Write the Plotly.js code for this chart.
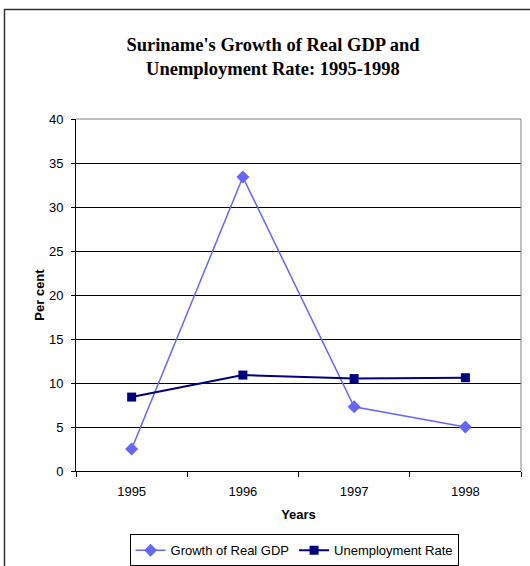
<!DOCTYPE html>
<html>
<head>
<meta charset="utf-8">
<script src="https://cdn.plot.ly/plotly-3.0.1.min.js"></script>
<style>
  body { margin: 0; background: #fff; }
  #chart { width: 530px; height: 566px; }
</style>
</head>
<body>
<div id="chart"></div>
<script>
    // Dados
    const years = ['1995', '1996', '1997', '1998'];
    const gdpGrowth = [2.5, 33.4, 7.3, 5.0];
    const unemployment = [8.4, 10.9, 10.5, 10.6];

    const traces = [
        {
            x: years,
            y: gdpGrowth,
            name: 'Growth of Real GDP',
            type: 'scatter',
            mode: 'lines+markers',
            line: { color: '#6666FF', width: 1.5 },
            marker: { symbol: 'diamond', size: 10, color: '#6666FF' }
        },
        {
            x: years,
            y: unemployment,
            name: 'Unemployment Rate',
            type: 'scatter',
            mode: 'lines+markers',
            line: { color: '#000080', width: 2 },
            marker: { symbol: 'square', size: 9, color: '#000080' }
        }
    ];

    const layout = {
        width: 530,
        height: 566,
        margin: { t: 119, b: 95, l: 76, r: 9, autoexpand: false },
        paper_bgcolor: '#fff',
        plot_bgcolor: '#fff',
        font: { family: 'Liberation Sans, Arial, sans-serif', size: 13, color: '#000' },
        title: {
            text: "<b>Suriname's Growth of Real GDP and<br>Unemployment Rate: 1995-1998</b>",
            font: { family: 'Liberation Serif, Times New Roman, serif', size: 18.5, color: '#000' },
            x: 0.515,
            xanchor: 'center',
            y: 0.91,
            yanchor: 'middle'
        },
        xaxis: {
            type: 'category',
            range: [-0.5, 3.5],
            tickson: 'boundaries',
            ticks: 'outside',
            ticklen: 5,
            tickcolor: '#000',
            ticklabelstandoff: 8,
            showline: true,
            linecolor: '#000',
            linewidth: 1,
            showgrid: false,
            title: { text: '<b>Years</b>', font: { size: 13 }, standoff: 12 }
        },
        yaxis: {
            range: [0, 40],
            dtick: 5,
            ticks: 'outside',
            ticklen: 4,
            tickcolor: '#000',
            ticklabelstandoff: 5,
            showline: true,
            linecolor: '#000',
            linewidth: 1,
            showgrid: true,
            gridcolor: '#000',
            gridwidth: 1,
            zeroline: false,
            title: { text: '<b>Per cent</b>', font: { size: 13 }, standoff: 1 }
        },
        showlegend: true,
        legend: {
            orientation: 'h',
            x: 0.49,
            xanchor: 'center',
            y: -0.18,
            yanchor: 'top',
            bordercolor: '#000',
            borderwidth: 1,
            font: { size: 13 },
            itemwidth: 30,
            tracegroupgap: 0
        },
        shapes: [
            // borda da área do gráfico (cinza)
            { type: 'line', xref: 'paper', yref: 'paper', x0: 1, x1: 1, y0: 0, y1: 1,
              line: { color: '#808080', width: 1 } },
            { type: 'line', xref: 'paper', yref: 'paper', x0: 0, x1: 1, y0: 1, y1: 1,
              line: { color: '#808080', width: 1 } },
            // moldura externa
            { type: 'rect', xref: 'paper', yref: 'paper',
              x0: (4.5 - 76) / 445, x1: 1.1, y0: -0.4, y1: (471 - 9.5) / 352,
              line: { color: '#333', width: 1.5 } }
        ]
    };

    Plotly.newPlot('chart', traces, layout, { displayModeBar: false });
</script>
</body>
</html>
